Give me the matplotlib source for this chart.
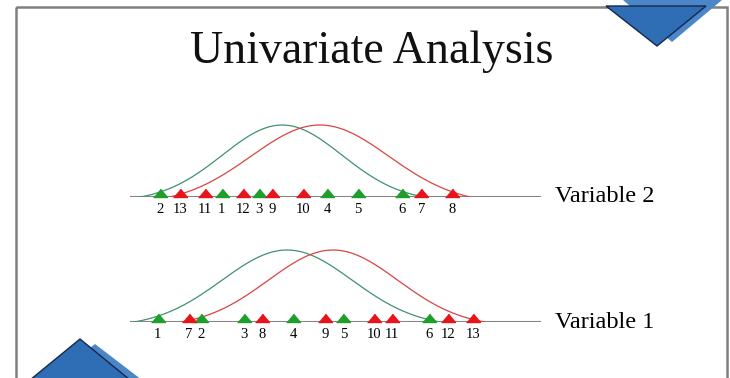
import numpy as np
import matplotlib.pyplot as plt
from matplotlib.patches import Polygon, Rectangle

plt.rcParams['font.family'] = ['Liberation Serif', 'DejaVu Serif']

# observation ids, obs 1-6 are group A (green), 7-13 group B (red)
obs_ids = [1, 2, 3, 4, 5, 6, 7, 8, 9, 10, 11, 12, 13]
obs_group = ['A'] * 6 + ['B'] * 7

# observed values on a 0-100 scale
var1_vals = [6.8, 17.3, 27.8, 39.8, 52.0, 72.9, 14.4, 32.2, 47.6, 59.5, 63.9, 77.6, 83.7]
var2_vals = [22.4, 7.3, 31.5, 48.0, 55.6, 66.3, 71.0, 78.5, 34.6, 42.2, 18.3, 27.6, 12.2]

# bell curve per group: (centre, sigma, half span)
var1_curves = {'A': (38.3, 15.9, 37.3), 'B': (49.5, 15.8, 37.0)}
var2_curves = {'A': (37.1, 14.6, 34.6), 'B': (46.3, 16.8, 36.6)}

var_names = ['Variable 1', 'Variable 2']

mark_col = {'A': '#1f9e2c', 'B': '#e8141b'}
curve_col = {'A': '#3f9272', 'B': '#d8453f'}

W, H = 730, 378
fig = plt.figure(figsize=(W / 100, H / 100), dpi=100)

# slide decoration in pixel units
deco = fig.add_axes([0, 0, 1, 1])
deco.set_xlim(0, W)
deco.set_ylim(H, 0)
deco.axis('off')
deco.add_patch(Rectangle((16, 7), 711, 375, fill=False, edgecolor='#808080', lw=1.8))
deco.add_patch(Polygon([(623, 0), (722, 0), (672, 42)], closed=True, facecolor='#4a86c8', edgecolor='none'))
deco.add_patch(Polygon([(606, 6), (706, 6), (657, 46)], closed=True, facecolor='#2f6db5', edgecolor='#13294d', lw=1))
deco.add_patch(Polygon([(95, 344), (142, 380), (50, 380)], closed=True, facecolor='#4a86c8', edgecolor='none'))
deco.add_patch(Polygon([(80, 339), (130, 380), (30, 380)], closed=True, facecolor='#2f6db5', edgecolor='#13294d', lw=1))
deco.text(372, 63, 'Univariate Analysis', ha='center', va='baseline', fontsize=33, color='#111111')

tri = [(-1, 0), (1, 0), (0, 1.2)]


def draw_var(bottom_px, vals, curves, name):
    ax = fig.add_axes([130 / W, (H - bottom_px) / H, 411 / W, 80 / H])
    ax.patch.set_alpha(0)
    ax.set_xlim(0, 100.2)
    ax.set_ylim(0, 1)
    ax.axis('off')
    ax.axhline(0, color='#858585', lw=1.5, zorder=1)
    for g in ['A', 'B']:
        mu, sd, span = curves[g]
        xs = np.linspace(mu - span, mu + span, 200)
        ys = np.exp(-(xs - mu) ** 2 / (2 * sd ** 2))
        end = ys[0]
        ax.plot(xs, 0.9 * (ys - end) / (1 - end), color=curve_col[g], lw=0.9, zorder=2)
    for i, v, g in zip(obs_ids, vals, obs_group):
        ax.plot(v, 0, marker=tri, ms=12, color=mark_col[g], zorder=3, clip_on=False)
        ax.annotate(str(i), (v, 0), xytext=(0, -9), textcoords='offset points',
                    ha='center', va='center', fontsize=10.5, annotation_clip=False)
    ax.text(1.035, 0, name, transform=ax.transAxes, ha='left', va='center', fontsize=17.5)


draw_var(197, var2_vals, var2_curves, var_names[1])
draw_var(322, var1_vals, var1_curves, var_names[0])

fig.savefig('out.png', dpi=100)
